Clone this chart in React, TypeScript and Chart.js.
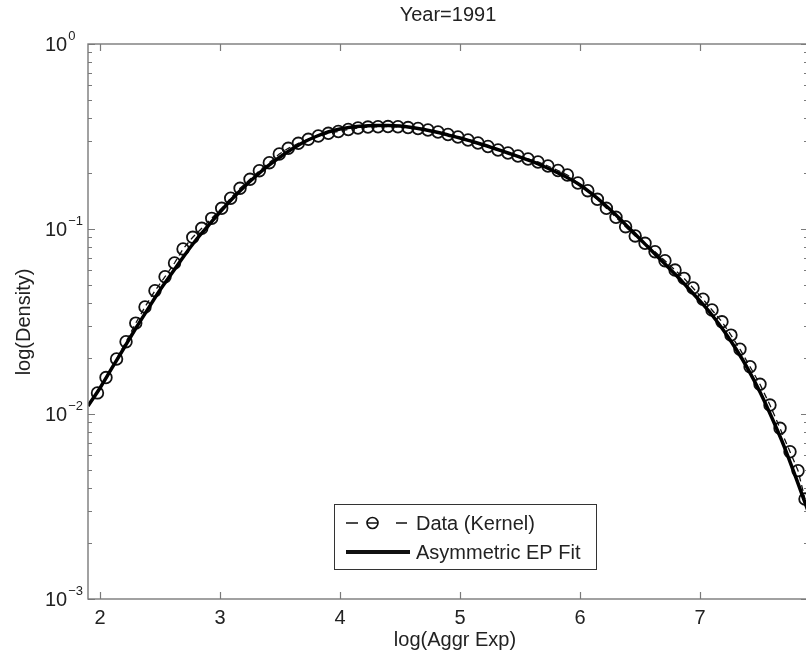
import React, { useEffect, useRef } from 'react';
import { Chart, registerables } from 'chart.js';

Chart.register(...registerables);

// ---- Data ----
const dataX = [1.979, 2.05, 2.138, 2.217, 2.298, 2.375, 2.458, 2.542, 2.621, 2.692, 2.773, 2.848, 2.931, 3.014, 3.089, 3.167, 3.25, 3.328, 3.411, 3.494, 3.569, 3.653, 3.736, 3.819, 3.903, 3.986, 4.069, 4.15, 4.233, 4.317, 4.4, 4.483, 4.567, 4.65, 4.733, 4.817, 4.9, 4.983, 5.067, 5.15, 5.233, 5.317, 5.4, 5.483, 5.567, 5.65, 5.733, 5.817, 5.895, 5.983, 6.065, 6.145, 6.22, 6.3, 6.38, 6.46, 6.542, 6.625, 6.708, 6.792, 6.867, 6.942, 7.025, 7.1, 7.183, 7.258, 7.333, 7.417, 7.5, 7.583, 7.667, 7.75, 7.817, 7.875];
const dataY = [0.013, 0.01574, 0.01983, 0.0246, 0.031, 0.0379, 0.0464, 0.0552, 0.0655, 0.078, 0.0902, 0.1009, 0.1142, 0.1294, 0.1466, 0.166, 0.1856, 0.2066, 0.2283, 0.2543, 0.273, 0.2905, 0.3054, 0.3182, 0.3291, 0.3365, 0.345, 0.3515, 0.3558, 0.357, 0.358, 0.357, 0.3536, 0.3493, 0.3428, 0.3344, 0.3242, 0.3143, 0.3028, 0.2917, 0.2792, 0.2674, 0.2575, 0.2481, 0.239, 0.2303, 0.2191, 0.2071, 0.1958, 0.1773, 0.1611, 0.1447, 0.1294, 0.1157, 0.1029, 0.0917, 0.0837, 0.0754, 0.0674, 0.06, 0.0541, 0.048, 0.0417, 0.0365, 0.0315, 0.0267, 0.0224, 0.018, 0.01447, 0.01118, 0.00837, 0.00625, 0.00494, 0.00347];

const fitX = [1.9, 2.0, 2.1, 2.2, 2.3, 2.4, 2.5, 2.6, 2.7, 2.8, 2.9, 3.0, 3.1, 3.2, 3.3, 3.4, 3.5, 3.6, 3.7, 3.8, 3.9, 4.0, 4.1, 4.2, 4.3, 4.4, 4.5, 4.6, 4.7, 4.8, 4.9, 5.0, 5.1, 5.2, 5.3, 5.4, 5.5, 5.6, 5.7, 5.8, 5.9, 6.0, 6.1, 6.2, 6.3, 6.4, 6.5, 6.6, 6.7, 6.8, 6.9, 7.0, 7.1, 7.2, 7.3, 7.4, 7.5, 7.6, 7.7, 7.8, 7.9];
const fitY = [0.01105, 0.01383, 0.01774, 0.02274, 0.02917, 0.037, 0.0468, 0.0578, 0.0715, 0.0872, 0.1038, 0.1236, 0.1453, 0.1687, 0.1934, 0.2191, 0.2449, 0.2706, 0.2953, 0.3162, 0.3344, 0.3471, 0.3558, 0.3602, 0.3625, 0.3625, 0.3602, 0.3536, 0.345, 0.3344, 0.3222, 0.3103, 0.2972, 0.2845, 0.2706, 0.2575, 0.2449, 0.2317, 0.2177, 0.2033, 0.1887, 0.1729, 0.1546, 0.1365, 0.119, 0.1025, 0.0883, 0.076, 0.0655, 0.0564, 0.048, 0.0408, 0.0343, 0.0281, 0.02246, 0.0175, 0.01315, 0.00951, 0.00671, 0.00451, 0.00299];

const xTicks = [2, 3, 4, 5, 6, 7];
const yTickValues = [1, 0.1, 0.01, 0.001];
const yTickExponents = ['0', '\u22121', '\u22122', '\u22123'];
const yMinorMultipliers = [2, 3, 4, 5, 6, 7, 8, 9];
const yMinorDecades = [0.001, 0.01, 0.1];

const titleText = 'Year=1991';
const xTitle = 'log(Aggr Exp)';
const yTitle = 'log(Density)';
const legendLabels = ['Data (Kernel)', 'Asymmetric EP Fit'];

const FONT = '"Liberation Sans", Arial, Helvetica, sans-serif';
const TEXT = '#222222';
const AXIS = '#7a7a7a';

const matlabAxes = {
  id: 'matlabAxes',
  afterDatasetsDraw(chart: any) {
    const { ctx, chartArea: a, scales } = chart;
    const xs = scales.x;
    const ys = scales.y;
    ctx.save();
    // axes box
    ctx.strokeStyle = AXIS;
    ctx.lineWidth = 1.4;
    ctx.strokeRect(a.left, a.top, a.right - a.left, a.bottom - a.top);

    // x ticks (inward, bottom & top)
    ctx.lineWidth = 1.2;
    ctx.beginPath();
    xTicks.forEach((t) => {
      const px = Math.round(xs.getPixelForValue(t)) + 0.5;
      ctx.moveTo(px, a.bottom);
      ctx.lineTo(px, a.bottom - 7);
      ctx.moveTo(px, a.top);
      ctx.lineTo(px, a.top + 7);
    });
    // y major ticks
    yTickValues.forEach((v) => {
      const py = Math.round(ys.getPixelForValue(v)) + 0.5;
      ctx.moveTo(a.left, py);
      ctx.lineTo(a.left + 7, py);
      ctx.moveTo(a.right, py);
      ctx.lineTo(a.right - 7, py);
    });
    // y minor ticks
    yMinorDecades.forEach((d) => {
      yMinorMultipliers.forEach((m) => {
        const py = Math.round(ys.getPixelForValue(d * m)) + 0.5;
        ctx.moveTo(a.left, py);
        ctx.lineTo(a.left + 4, py);
        ctx.moveTo(a.right, py);
        ctx.lineTo(a.right - 4, py);
      });
    });
    ctx.stroke();

    // x tick labels
    ctx.fillStyle = TEXT;
    ctx.font = `20px ${FONT}`;
    ctx.textAlign = 'center';
    ctx.textBaseline = 'middle';
    xTicks.forEach((t) => {
      ctx.fillText(String(t), xs.getPixelForValue(t), a.bottom + 19);
    });

    // y tick labels with superscript exponents
    yTickValues.forEach((v, i) => {
      const py = ys.getPixelForValue(v);
      ctx.font = `20px ${FONT}`;
      ctx.textAlign = 'left';
      ctx.textBaseline = 'middle';
      ctx.fillText('10', 45, py + 1);
      const w = ctx.measureText('10').width;
      ctx.font = `13px ${FONT}`;
      ctx.fillText(yTickExponents[i], 45 + w + 1, py - 8);
    });

    // title
    ctx.font = `20px ${FONT}`;
    ctx.textAlign = 'center';
    ctx.textBaseline = 'middle';
    ctx.fillText(titleText, (a.left + a.right) / 2, 15);

    // x title
    ctx.fillText(xTitle, 455, 640);

    // y title
    ctx.save();
    ctx.translate(24, 322);
    ctx.rotate(-Math.PI / 2);
    ctx.fillText(yTitle, 0, 0);
    ctx.restore();

    // legend
    const bx = 334.5, by = 504.5, bw = 262, bh = 65;
    ctx.fillStyle = '#ffffff';
    ctx.fillRect(bx, by, bw, bh);
    ctx.strokeStyle = '#333333';
    ctx.lineWidth = 1;
    ctx.strokeRect(bx, by, bw, bh);

    const r1 = 523, r2 = 552;
    ctx.strokeStyle = '#111111';
    ctx.lineWidth = 1.6;
    ctx.beginPath();
    ctx.moveTo(346, r1); ctx.lineTo(358, r1);
    ctx.moveTo(367, r1); ctx.lineTo(378, r1);
    ctx.moveTo(396, r1); ctx.lineTo(407, r1);
    ctx.stroke();
    ctx.beginPath();
    ctx.arc(372.5, r1, 5.5, 0, Math.PI * 2);
    ctx.stroke();

    ctx.lineWidth = 4;
    ctx.beginPath();
    ctx.moveTo(346, r2); ctx.lineTo(410, r2);
    ctx.stroke();

    ctx.fillStyle = TEXT;
    ctx.font = `20px ${FONT}`;
    ctx.textAlign = 'left';
    ctx.textBaseline = 'middle';
    ctx.fillText(legendLabels[0], 416, r1 + 1);
    ctx.fillText(legendLabels[1], 416, r2 + 1);

    ctx.restore();
  },
};

export default function App() {
  const canvasRef = useRef<HTMLCanvasElement | null>(null);

  useEffect(() => {
    const canvas = canvasRef.current;
    if (!canvas) return;
    const chart = new Chart(canvas, {
      type: 'scatter',
      data: {
        datasets: [
          {
            label: legendLabels[0],
            data: dataX.map((x, i) => ({ x, y: dataY[i] })),
            showLine: true,
            borderColor: '#111111',
            borderWidth: 1.3,
            borderDash: [6, 4],
            pointRadius: 5.8,
            pointBorderWidth: 1.8,
            pointBackgroundColor: 'rgba(0,0,0,0)',
            pointBorderColor: '#111111',
            order: 2,
          } as any,
          {
            label: legendLabels[1],
            data: fitX.map((x, i) => ({ x, y: fitY[i] })),
            showLine: true,
            borderColor: '#000000',
            borderWidth: 3.5,
            pointRadius: 0,
            cubicInterpolationMode: 'monotone',
            order: 1,
          } as any,
        ],
      },
      options: {
        responsive: false,
        animation: false,
        events: [],
        layout: { autoPadding: false, padding: { left: 88, top: 44, right: 4, bottom: 56 } },
        scales: {
          x: { type: 'linear', min: 1.9, max: 7.9, display: false },
          y: { type: 'logarithmic', min: 0.001, max: 1, display: false },
        },
        plugins: {
          legend: { display: false },
          tooltip: { enabled: false },
          title: { display: false },
        },
      },
      plugins: [matlabAxes],
    });
    return () => chart.destroy();
  }, []);

  return (
    <div
      style={{
        position: 'fixed',
        left: 0,
        top: 0,
        width: 806,
        height: 655,
        overflow: 'hidden',
        background: '#ffffff',
      }}
    >
      <canvas
        ref={canvasRef}
        width={812}
        height={655}
        style={{ display: 'block', width: 812, height: 655 }}
      />
    </div>
  );
}
